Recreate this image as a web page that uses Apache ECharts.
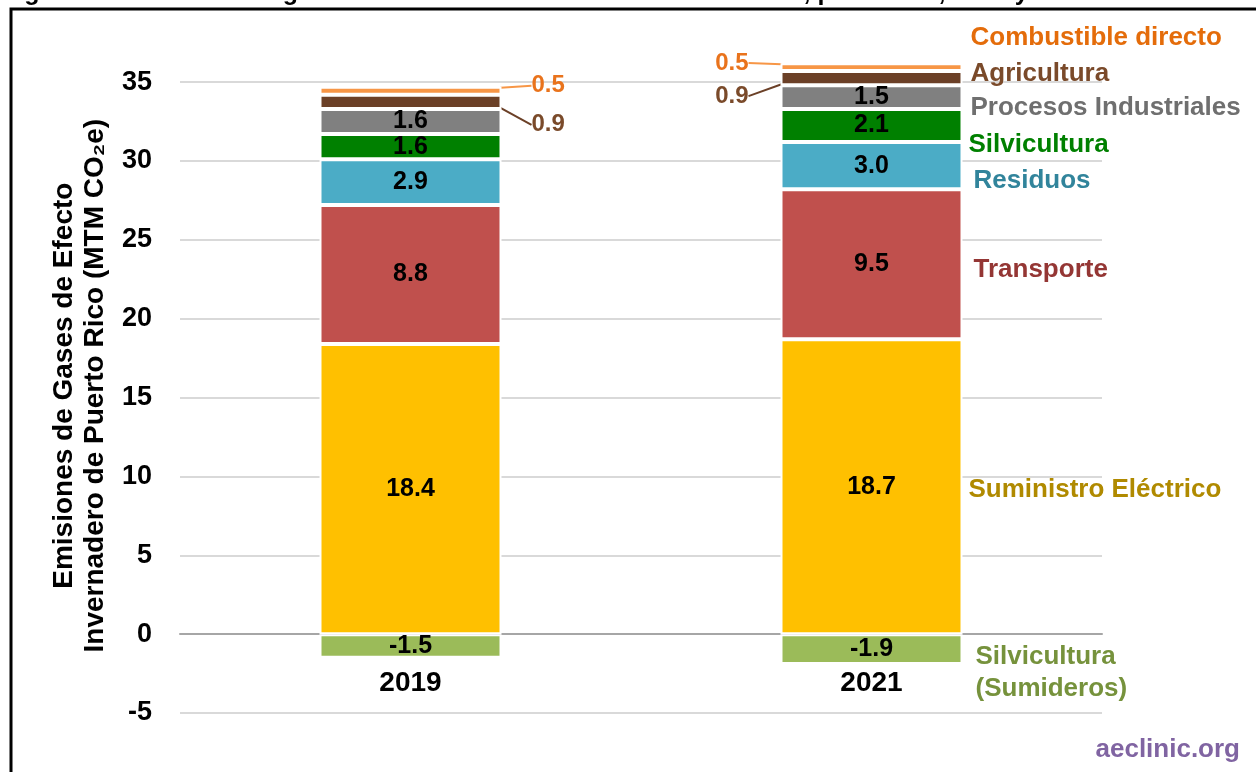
<!DOCTYPE html>
<html><head><meta charset="utf-8">
<script src="https://cdn.jsdelivr.net/npm/echarts@6/dist/echarts.min.js"></script>
<style>html,body{margin:0;padding:0;background:#fff}#c{width:1256px;height:772px}</style>
</head><body><div id="c"></div>
<script>
const years = ['2019', '2021'];
const sectorNames = ['Suministro Eléctrico','Transporte','Residuos','Silvicultura','Procesos Industriales','Agricultura','Combustible directo','Silvicultura\n(Sumideros)'];
const suministro = [18.4, 18.7];
const transporte = [8.8, 9.5];
const residuos = [2.9, 3.0];
const silvicultura = [1.6, 2.1];
const procesos = [1.6, 1.5];
const agricultura = [0.9, 0.9];
const combustible = [0.5, 0.5];
const sumideros = [-1.5, -1.9];
const yTicks = [-5, 0, 5, 10, 15, 20, 25, 30, 35];

const seriesData = [suministro, transporte, residuos, silvicultura, procesos, agricultura, combustible, sumideros];
const barColors = ['#FFC000','#C0504D','#4BACC6','#008000','#808080','#6B4027','#F79646','#9BBB59'];
const nameColors = ['#B08A00','#943634','#31849B','#008000','#6F6F6F','#7A4A2A','#E46C0A','#76923C'];
const nameOffsets = [[6,3],[11,6],[11,15],[6,19],[8,11],[8,-4],[8,-29],[13,24]];
const FONT = '"Liberation Sans", Arial, sans-serif';

const chart = echarts.init(document.getElementById('c'), null, {renderer:'canvas'});

function smallLayout(sIdx){
  return function(p){
    if (sIdx === 6) return p.dataIndex === 0 ? {dx: 25, dy: -5} : {dx: -27, dy: -4};
    return p.dataIndex === 0 ? {dx: 25, dy: 23} : {dx: -27, dy: 18};
  };
}

const series = seriesData.map((arr, i) => {
  const small = (i === 5 || i === 6);
  const s = {
    name: sectorNames[i].replace('\n',' '),
    type: 'bar',
    stack: 'total',
    barWidth: 182,
    itemStyle: {color: barColors[i], borderColor: '#fff', borderWidth: 2},
    data: arr.map((v, j) => small ? {value: v, label: {position: j === 0 ? 'right' : 'left'}} : v),
    label: {
      show: true,
      position: small ? 'right' : 'inside',
      formatter: p => p.value.toFixed(1),
      color: small ? (i === 6 ? '#E9731C' : '#7A4A2A') : '#000',
      fontFamily: FONT, fontWeight: 'bold', fontSize: small ? 24 : 25
    },
    emphasis: {disabled: true},
    animation: false
  };
  if (small) {
    s.labelLayout = smallLayout(i);
    s.labelLine = {show: true, length2: 0, lineStyle: {color: i === 6 ? '#F79646' : '#6B4027', width: 2}};
  }
  return s;
});

chart.setOption({
  animation: false,
  backgroundColor: '#fff',
  grid: {left: 180, right: 154, top: 58.4, bottom: 59, containLabel: false},
  xAxis: {
    type: 'category', data: years,
    axisLine: {show: true, onZero: true, lineStyle: {color: '#A6A6A6', width: 2}},
    axisTick: {show: false},
    axisLabel: {margin: -44, color: '#000', fontFamily: FONT, fontWeight: 'bold', fontSize: 28}
  },
  yAxis: {
    type: 'value', min: yTicks[0], max: 36.5, interval: 5,
    name: 'Emisiones de Gases de Efecto\nInvernadero de Puerto Rico (MTM CO₂e)',
    nameLocation: 'middle', nameRotate: 90, nameGap: 63,
    nameTextStyle: {color: '#000', fontFamily: FONT, fontWeight: 'bold', fontSize: 28, lineHeight: 31},
    axisLine: {show: false}, axisTick: {show: false},
    axisLabel: {showMaxLabel: false, margin: 28, color: '#000', fontFamily: FONT, fontWeight: 'bold', fontSize: 27,
      formatter: v => yTicks.indexOf(v) >= 0 ? String(v) : ''},
    splitLine: {show: true, showMaxLine: false, lineStyle: {color: '#D9D9D9', width: 2}}
  },
  series: series
});

// Category names next to the 2021 bar, placed using the chart's own scales
const graphics = [];
let posCum = 0, negCum = 0;
const barRight = chart.convertToPixel({gridIndex: 0}, [1, 0])[0] + 91;
seriesData.forEach((arr, i) => {
  const v = arr[1];
  let center;
  if (v >= 0) { center = posCum + v / 2; posCum += v; }
  else { center = negCum + v / 2; negCum += v; }
  const py = chart.convertToPixel({gridIndex: 0}, [1, center])[1];
  graphics.push({
    type: 'text', x: barRight + nameOffsets[i][0], y: py + nameOffsets[i][1],
    style: {text: sectorNames[i], fill: nameColors[i], font: 'bold 26px ' + FONT,
      textVerticalAlign: 'middle', textAlign: 'left', lineHeight: 32}
  });
});
graphics.push({type: 'text', x: 1240, y: 750, style: {text: 'aeclinic.org', fill: '#8064A2', font: 'bold 26px ' + FONT, textAlign: 'right', textVerticalAlign: 'middle'}});
graphics.push({type: 'rect', shape: {x: 11, y: 9, width: 1400, height: 900}, style: {fill: null, stroke: '#000', lineWidth: 3}, z: 100});
graphics.push({type: 'text', x: 2, y: -19, style: {text: 'Figura 2: Emisiones de gases de efecto invernadero de Puerto Rico, por sector, 2019 y 2021', fill: '#000', font: 'bold 25px ' + FONT, textAlign: 'left', textVerticalAlign: 'top'}});
chart.setOption({graphic: graphics});
</script></body></html>
